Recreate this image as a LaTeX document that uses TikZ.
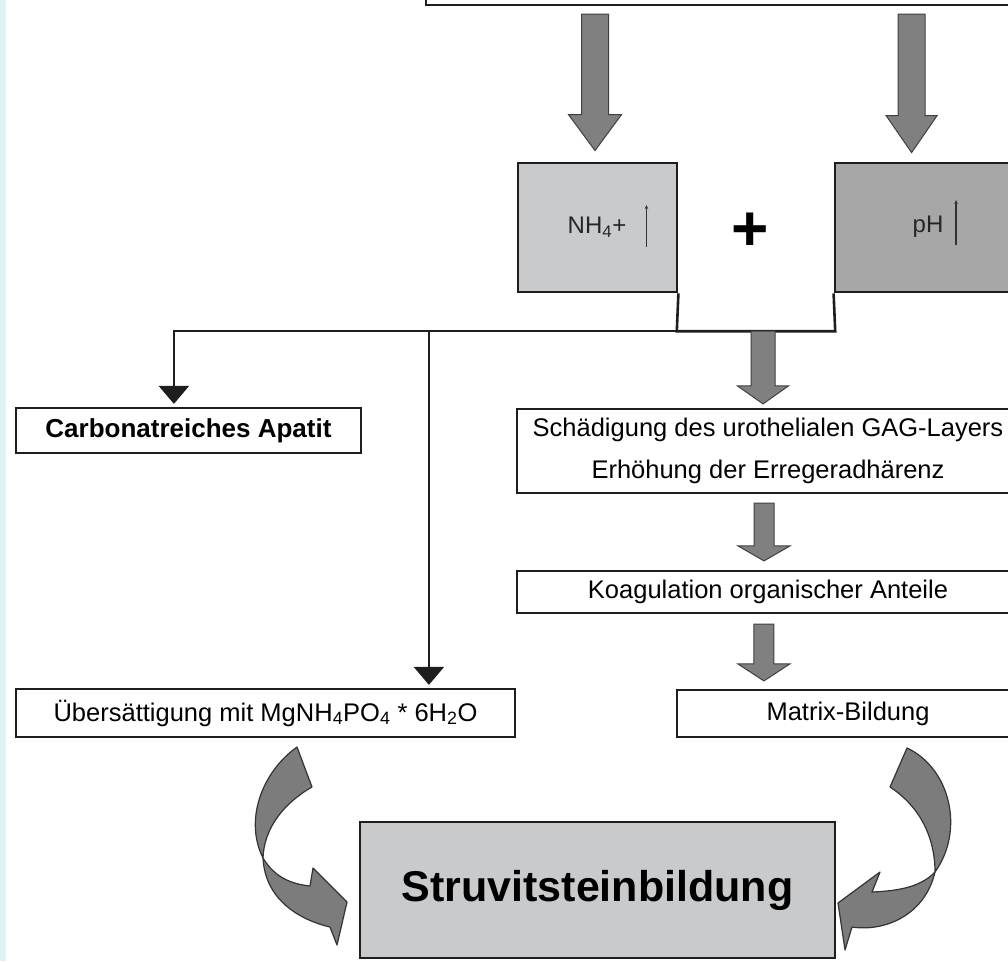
\documentclass[tikz,border=0pt]{standalone}
\usepackage{fontspec}
\setmainfont{Liberation Sans}
\usetikzlibrary{arrows.meta,calc}
\definecolor{stripc}{HTML}{DDF4F1}
\definecolor{lightg}{HTML}{C9CACC}
\definecolor{darkg}{HTML}{A7A7A7}
\definecolor{arrg}{HTML}{808080}
\definecolor{curvg}{HTML}{7C7C7C}
\definecolor{edgec}{HTML}{1E1E1E}
\newcommand{\fatarrow}[5]{%
  \path[fatarr] let \p1=#1, \p2=#2 in
    (\x2-#3pt,\y1) -- (\x2+#3pt,\y1) -- (\x2+#3pt,\y2+#5pt) -- (\x2+#4pt,\y2+#5pt)
    -- (\x2,\y2) -- (\x2-#4pt,\y2+#5pt) -- (\x2-#3pt,\y2+#5pt) -- cycle;}
\begin{document}
\begin{tikzpicture}[x=1pt,y=-1pt,
  box/.style={draw=edgec, line width=2.2pt, fill=white, inner sep=0pt,
    font=\fontsize{25.5}{42}\selectfont},
  lab/.style={inner sep=0pt, font=\fontsize{24}{28}\selectfont, text=black!85},
  fatarr/.style={fill=arrg, draw=black!75, line width=1pt, line join=miter},
  thinarr/.style={draw=edgec, line width=2.2pt, -{Triangle[length=18pt,width=30pt]}},
  uparr/.style={draw=black!80, line width=1.5pt, -{Stealth[length=4pt,width=3.5pt]}},
  curvarr/.style={fill=curvg, draw=black!80, line width=1.2pt, line join=round}]
\useasboundingbox (0,0) rectangle (1008,961);
\clip (0,0) rectangle (1008,961);
\fill[white] (0,0) rectangle (1008,961);
\fill[stripc] (0,0) rectangle (6,961);

% top box (cut off)
\node[box, minimum width=674pt, minimum height=70pt] (top) at (763,-30) {};

% boxes of the middle row
\node[box, fill=lightg, line width=2.8pt, minimum width=159pt, minimum height=129pt] (nh4) at (597.5,227.5) {};
\node[box, fill=darkg, line width=2.8pt, minimum width=265pt, minimum height=129pt] (ph) at (967.5,227.5) {};
\node[inner sep=0pt, minimum width=158pt, minimum height=168pt] (plusbox) at (756,247) {};
\draw[edgec, line width=2.6pt] (nh4.south east) -- (plusbox.south west) -- (plusbox.south east) -- (ph.south west);

\node[lab] (nh4lab) at (597,227) {NH\textsubscript{4}+};
\node[lab] (phlab) at (928,227) {pH};
\draw[uparr] ($(nh4lab.east)+(20,20)$) -- ($(nh4lab.east)+(20,-22)$);
\draw[uparr] ($(phlab.east)+(12.5,18)$) -- ($(phlab.east)+(12.5,-27)$);
\node[inner sep=0pt, font=\bfseries\fontsize{64}{64}\selectfont] (plus) at (750,232) {+};

% fat arrows from the top box
\fatarrow{($(top.south west)+(169,8)$)}{($(nh4.north)+(-2.5,-11)$)}{13.5}{26.5}{36}
\fatarrow{($(top.south west)+(487,8)$)}{($(ph.north west)+(78,-9)$)}{13.5}{25.5}{37}

% right column
\node[box, align=center, minimum width=502pt, minimum height=84pt] (schaed) at (768,451)
  {Schädigung des urothelialen GAG-Layers\\Erhöhung der Erregeradhärenz};
\node[box, minimum width=502pt, minimum height=42pt] (koag) at (768,592) {Koagulation organischer Anteile};
\node[box, minimum width=342pt, minimum height=47pt] (matrix) at (848,713.5) {Matrix-Bildung};

\fatarrow{($(plusbox.south)+(7,0)$)}{($(schaed.north)+(-5,-4)$)}{12}{25.5}{18}
\fatarrow{($(schaed.south)+(-4,9)$)}{($(koag.north)+(-4,-9)$)}{10}{26}{15}
\fatarrow{($(koag.south)+(-3,10)$)}{($(matrix.north west)+(88,-8)$)}{10}{26}{17}

% left column
\node[box, minimum width=345pt, minimum height=45pt, font=\bfseries\fontsize{26}{30}\selectfont] (carb) at (188.5,430.5) {Carbonatreiches Apatit};
\node[box, minimum width=499pt, minimum height=48pt] (ueb) at (265.5,713)
  {Übersättigung mit MgNH\textsubscript{4}PO\textsubscript{4} * 6H\textsubscript{2}O};

\coordinate (carbin) at ($(carb.north west)+(159,-3)$);
\coordinate (uebin) at ($(ueb.north west)+(414,-3)$);
\draw[thinarr] (plusbox.south west) -| (carbin);
\draw[thinarr] (uebin |- plusbox.south) -- (uebin);

% final box
\node[box, fill=lightg, minimum width=475pt, minimum height=136pt, font=\bfseries\fontsize{43}{50}\selectfont] (struvit) at (597.5,890) {Struvitsteinbildung};

% curved arrows
\path[curvarr] (297,747) .. controls (262,772) and (244,820) .. (263,858) .. controls (264,828) and (284,803) .. (312,787) -- cycle;
\path[curvarr] (263,858) .. controls (275,878) and (292,884) .. (310,886) -- (313,868) -- (347,902) -- (337,945) -- (330,927) .. controls (300,920) and (265,900) .. (263,858) -- cycle;
\path[curvarr] (907,748) .. controls (950,768) and (965,830) .. (935,872) .. controls (935,840) and (922,808) .. (890,787) -- cycle;
\path[curvarr] (935,872) .. controls (920,888) and (895,891) .. (872,892) -- (880,872) -- (838,903) -- (845,950) -- (852,927) .. controls (885,932) and (925,915) .. (935,872) -- cycle;
\end{tikzpicture}
\end{document}
